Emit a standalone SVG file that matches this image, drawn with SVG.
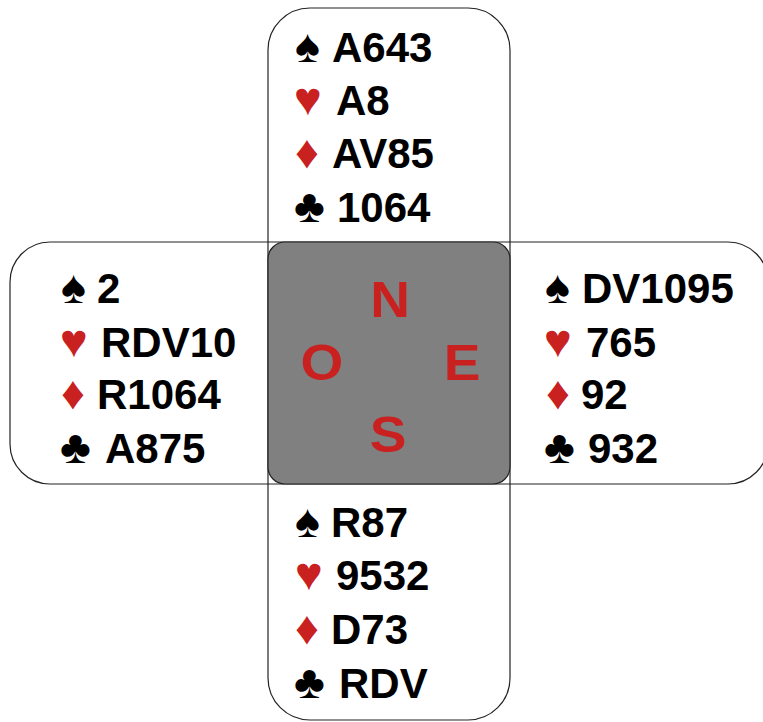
<svg xmlns="http://www.w3.org/2000/svg" width="763" height="722" viewBox="0 0 763 722">
<style>
  .band { fill: none; stroke: #222; stroke-width: 1.2; }
  .table { fill: #808080; stroke: #222; stroke-width: 1.2; }
  text { font-family: "Liberation Sans", Arial, sans-serif; font-weight: bold; }
  .v { font-size: 42px; fill: #000; }
  .s { font-size: 47px; fill: #000; }
  .r { font-size: 47px; fill: #c8211f; }
  .dir { font-size: 50px; fill: #c8211f; text-anchor: middle; }
</style>
<rect width="763" height="722" fill="#fff"/>
<g id="frame">
  <rect class="band" x="10" y="242" width="758" height="242" rx="40" ry="40"/>
  <rect class="band" x="268" y="8" width="242" height="712" rx="42" ry="42"/>
</g>
<g id="center">
  <rect class="table" x="268" y="242" width="242" height="242" rx="17" ry="17"/>
  <text class="dir" transform="translate(390,317) scale(1.1,1)">N</text>
  <text class="dir" transform="translate(322,380) scale(1.1,1)">O</text>
  <text class="dir" transform="translate(462,380) scale(1.1,1)">E</text>
  <text class="dir" transform="translate(388,452) scale(1.1,1)">S</text>
</g>
<g id="north">
  <text class="s" x="295" y="62">♠</text><text class="v" x="332" y="62">A643</text>
  <text class="r" x="294" y="115">♥</text><text class="v" x="336" y="115">A8</text>
  <text class="r" x="295" y="168">♦</text><text class="v" x="332" y="168">AV85</text>
  <text class="s" x="294" y="222">♣</text><text class="v" x="337" y="222">1064</text>
</g>
<g id="west">
  <text class="s" x="61" y="303">♠</text><text class="v" x="97" y="303">2</text>
  <text class="r" x="60" y="357">♥</text><text class="v" x="101" y="357">RDV10</text>
  <text class="r" x="61" y="409">♦</text><text class="v" x="97" y="409">R1064</text>
  <text class="s" x="60" y="463">♣</text><text class="v" x="105" y="463">A875</text>
</g>
<g id="east">
  <text class="s" x="545" y="303">♠</text><text class="v" x="582" y="303">DV1095</text>
  <text class="r" x="544" y="357">♥</text><text class="v" x="586" y="357">765</text>
  <text class="r" x="546" y="409">♦</text><text class="v" x="581" y="409">92</text>
  <text class="s" x="544" y="463">♣</text><text class="v" x="588" y="463">932</text>
</g>
<g id="south">
  <text class="s" x="295" y="537">♠</text><text class="v" x="331" y="537">R87</text>
  <text class="r" x="295" y="590">♥</text><text class="v" x="336" y="590">9532</text>
  <text class="r" x="295" y="644">♦</text><text class="v" x="331" y="644">D73</text>
  <text class="s" x="294" y="698">♣</text><text class="v" x="339" y="698">RDV</text>
</g>
</svg>
